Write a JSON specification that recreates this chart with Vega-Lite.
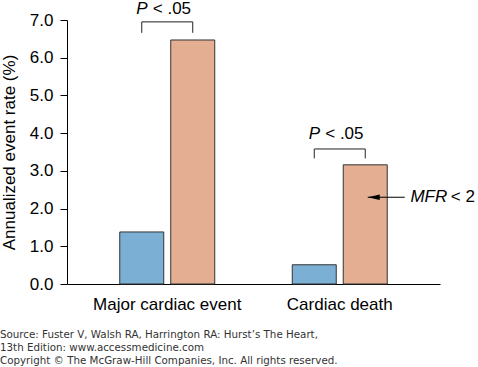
{
  "$schema": "https://vega.github.io/schema/vega-lite/v6.json",
  "width": 373,
  "height": 264,
  "autosize": {"type": "none"},
  "padding": {"left": 67, "top": 20, "right": 38, "bottom": 83},
  "background": "white",
  "config": {
    "view": {"stroke": null},
    "font": "Liberation Sans",
    "axisY": {"tickCount": 8, "labelOverlap": false, "labelFlush": false, "grid": false}
  },
  "title": {
    "text": ["Source: Fuster V, Walsh RA, Harrington RA: Hurst’s The Heart,", "13th Edition: www.accessmedicine.com"],
    "subtitle": "Copyright © The McGraw-Hill Companies, Inc. All rights reserved.",
    "orient": "bottom",
    "anchor": "start",
    "frame": "group",
    "dx": -67,
    "offset": 18,
    "font": "DejaVu Sans",
    "fontSize": 10.3,
    "fontWeight": "normal",
    "color": "#333333",
    "lineHeight": 13.3,
    "subtitleFont": "DejaVu Sans",
    "subtitleFontSize": 10.3,
    "subtitleColor": "#333333",
    "subtitlePadding": 2
  },
  "datasets": {
    "rates": [
      {"event": "Major cardiac event", "group": "MFR ≥ 2", "rate": 1.38},
      {"event": "Major cardiac event", "group": "MFR < 2", "rate": 6.47},
      {"event": "Cardiac death", "group": "MFR ≥ 2", "rate": 0.51},
      {"event": "Cardiac death", "group": "MFR < 2", "rate": 3.16}
    ],
    "brackets": [
      {"event": "Major cardiac event", "group": "MFR ≥ 2", "value": 6.66, "order": 1},
      {"event": "Major cardiac event", "group": "MFR ≥ 2", "value": 6.95, "order": 2},
      {"event": "Major cardiac event", "group": "MFR < 2", "value": 6.95, "order": 3},
      {"event": "Major cardiac event", "group": "MFR < 2", "value": 6.66, "order": 4},
      {"event": "Cardiac death", "group": "MFR ≥ 2", "value": 3.33, "order": 1},
      {"event": "Cardiac death", "group": "MFR ≥ 2", "value": 3.58, "order": 2},
      {"event": "Cardiac death", "group": "MFR < 2", "value": 3.58, "order": 3},
      {"event": "Cardiac death", "group": "MFR < 2", "value": 3.33, "order": 4}
    ],
    "pvals": [
      {"event": "Major cardiac event", "value": 7.16},
      {"event": "Cardiac death", "value": 3.84}
    ],
    "arrow": [
      {"event": "Cardiac death", "value": 2.3}
    ]
  },
  "layer": [
    {
      "data": {"name": "rates"},
      "mark": {"type": "bar", "stroke": "#333333", "strokeWidth": 1},
      "encoding": {
        "x": {
          "field": "event",
          "type": "nominal",
          "sort": null,
          "scale": {"domain": ["Major cardiac event", "Cardiac death"], "paddingInner": 0, "paddingOuter": 0.0812},
          "axis": {
            "title": null,
            "labelAngle": 0,
            "labelFontSize": 17,
            "labelColor": "black",
            "domainColor": "black",
            "domainWidth": 1,
            "ticks": false,
            "labelPadding": 12
          }
        },
        "xOffset": {
          "field": "group",
          "type": "nominal",
          "sort": null,
          "scale": {"domain": ["MFR ≥ 2", "MFR < 2"], "paddingInner": 0.137, "paddingOuter": 0.76}
        },
        "y": {
          "field": "rate",
          "type": "quantitative",
          "scale": {"domain": [0, 7], "nice": false},
          "axis": {
            "title": "Annualized event rate (%)",
            "values": [0, 1, 2, 3, 4, 5, 6, 7],
            "tickCount": 8,
            "format": ".1f",
            "grid": false,
            "labelOverlap": false,
            "labelFlush": false,
            "labelFontSize": 17,
            "labelColor": "black",
            "titleFontSize": 17,
            "titleFontWeight": "normal",
            "titleColor": "black",
            "tickColor": "black",
            "domainColor": "black",
            "tickSize": 7,
            "labelPadding": 7,
            "titlePadding": 11
          }
        },
        "color": {
          "field": "group",
          "type": "nominal",
          "scale": {"domain": ["MFR ≥ 2", "MFR < 2"], "range": ["#7bafd4", "#e4ae92"]},
          "legend": null
        }
      }
    },
    {
      "data": {"name": "brackets"},
      "mark": {"type": "line", "color": "#222222", "strokeWidth": 1},
      "encoding": {
        "x": {"field": "event", "type": "nominal", "sort": null},
        "xOffset": {"field": "group", "type": "nominal", "sort": null},
        "y": {"field": "value", "type": "quantitative"},
        "detail": {"field": "event"},
        "order": {"field": "order", "type": "quantitative"}
      }
    },
    {
      "data": {"name": "pvals"},
      "mark": {"type": "text", "text": "P", "fontStyle": "italic", "fontSize": 17, "align": "left", "baseline": "alphabetic", "dx": -31, "color": "black"},
      "encoding": {
        "x": {"field": "event", "type": "nominal", "sort": null},
        "y": {"field": "value", "type": "quantitative"}
      }
    },
    {
      "data": {"name": "pvals"},
      "mark": {"type": "text", "text": "< .05", "fontSize": 17, "align": "left", "baseline": "alphabetic", "dx": -14.5, "color": "black"},
      "encoding": {
        "x": {"field": "event", "type": "nominal", "sort": null},
        "y": {"field": "value", "type": "quantitative"}
      }
    },
    {
      "data": {"name": "arrow"},
      "mark": {"type": "tick", "orient": "horizontal", "size": 37, "thickness": 1, "color": "black", "opacity": 1, "xOffset": 46.5},
      "encoding": {
        "x": {"field": "event", "type": "nominal", "sort": null},
        "y": {"field": "value", "type": "quantitative"}
      }
    },
    {
      "data": {"name": "arrow"},
      "mark": {"type": "point", "shape": "M-1,0L1,-0.45L1,0.45Z", "size": 144, "filled": true, "color": "black", "opacity": 1, "xOffset": 34},
      "encoding": {
        "x": {"field": "event", "type": "nominal", "sort": null},
        "y": {"field": "value", "type": "quantitative"}
      }
    },
    {
      "data": {"name": "arrow"},
      "mark": {"type": "text", "text": "MFR", "fontStyle": "italic", "fontSize": 17, "align": "left", "baseline": "middle", "dx": 70.7, "color": "black"},
      "encoding": {
        "x": {"field": "event", "type": "nominal", "sort": null},
        "y": {"field": "value", "type": "quantitative"}
      }
    },
    {
      "data": {"name": "arrow"},
      "mark": {"type": "text", "text": "< 2", "fontSize": 17, "align": "left", "baseline": "middle", "dx": 111, "color": "black"},
      "encoding": {
        "x": {"field": "event", "type": "nominal", "sort": null},
        "y": {"field": "value", "type": "quantitative"}
      }
    },
    {
      "mark": {"type": "rule", "color": "black", "y2Offset": 6},
      "encoding": {
        "x": {"datum": "Major cardiac event", "type": "nominal", "bandPosition": -0.0812},
        "y": {"datum": 0, "type": "quantitative"},
        "y2": {"datum": 0}
      }
    },
    {
      "mark": {"type": "rule", "color": "black", "y2Offset": 6},
      "encoding": {
        "x": {"datum": "Cardiac death", "type": "nominal", "bandPosition": 0},
        "y": {"datum": 0, "type": "quantitative"},
        "y2": {"datum": 0}
      }
    },
    {
      "mark": {"type": "rule", "color": "black", "y2Offset": 6},
      "encoding": {
        "x": {"datum": "Cardiac death", "type": "nominal", "bandPosition": 1.0812},
        "y": {"datum": 0, "type": "quantitative"},
        "y2": {"datum": 0}
      }
    }
  ]
}
